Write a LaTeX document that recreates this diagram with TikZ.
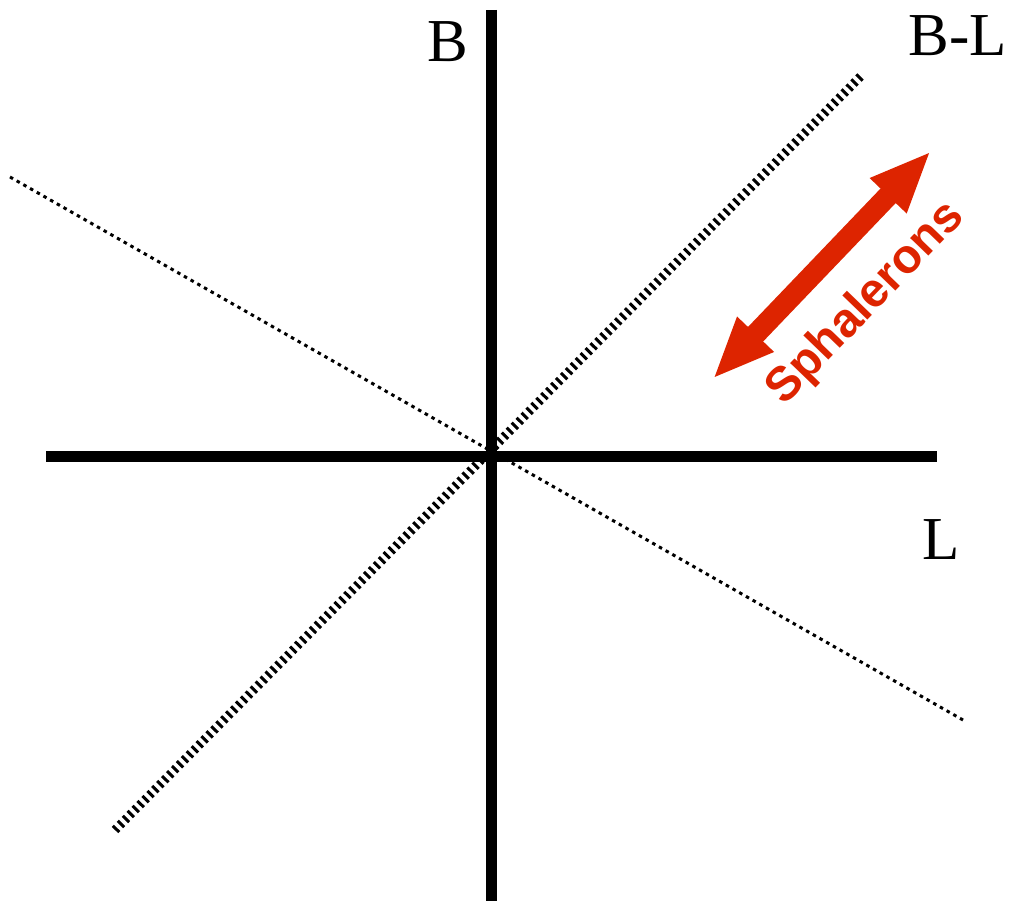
\documentclass[tikz,border=0pt]{standalone}
\usepackage{fontspec}
\setmainfont{Liberation Serif}
\newfontfamily\arialbold{Liberation Sans}[BoldFont={* Bold}]
\usetikzlibrary{arrows.meta}
\definecolor{spred}{RGB}{221,36,0}
\tikzset{
  axisline/.style={line width=11pt, black},
  bmlline/.style={line width=9pt, black, dash pattern=on 3pt off 4pt},
  dotline/.style={line width=3pt, black, dash pattern=on 3.5pt off 4.2pt},
  axlabel/.style={font=\fontsize{61}{61}\selectfont, anchor=base, inner sep=0pt},
  sphal/.style={line width=21pt, spred, {Triangle[length=62pt,width=46pt]}-{Triangle[length=62pt,width=46pt]}},
  sphaltext/.style={font=\arialbold\bfseries\fontsize{48}{48}\selectfont, text=spred, rotate=46, inner sep=0pt}
}
\begin{document}
\begin{tikzpicture}[x=1pt,y=-1pt]
\useasboundingbox (0,0) rectangle (1017,901);
% coordinates
\coordinate (vtop) at (491,10);
\coordinate (vbot) at (491,905);
\coordinate (hleft) at (46,456);
\coordinate (hright) at (937,456);
\coordinate (dA) at (115,830);
\coordinate (dB) at (862,75);
\coordinate (pA) at (10,177);
\coordinate (pB) at (963,720);
\coordinate (sA) at (712.7,379);
\coordinate (sB) at (931,151);
% lines
\draw[dotline] (pA) -- (pB);
\draw[bmlline] (dA) -- (dB);
\draw[axisline] (vtop) -- (vbot);
\draw[axisline] (hleft) -- (hright);
% arrow
\draw[sphal] (sA) -- (sB);
% labels
\node[axlabel] (lB) at (448,62) {B};
\node[axlabel] (lBL) at (958,56) {B-L};
\node[axlabel] (lL) at (941,559) {L};
\node[sphaltext] (ls) at (866,304) {Sphalerons};
\end{tikzpicture}
\end{document}
